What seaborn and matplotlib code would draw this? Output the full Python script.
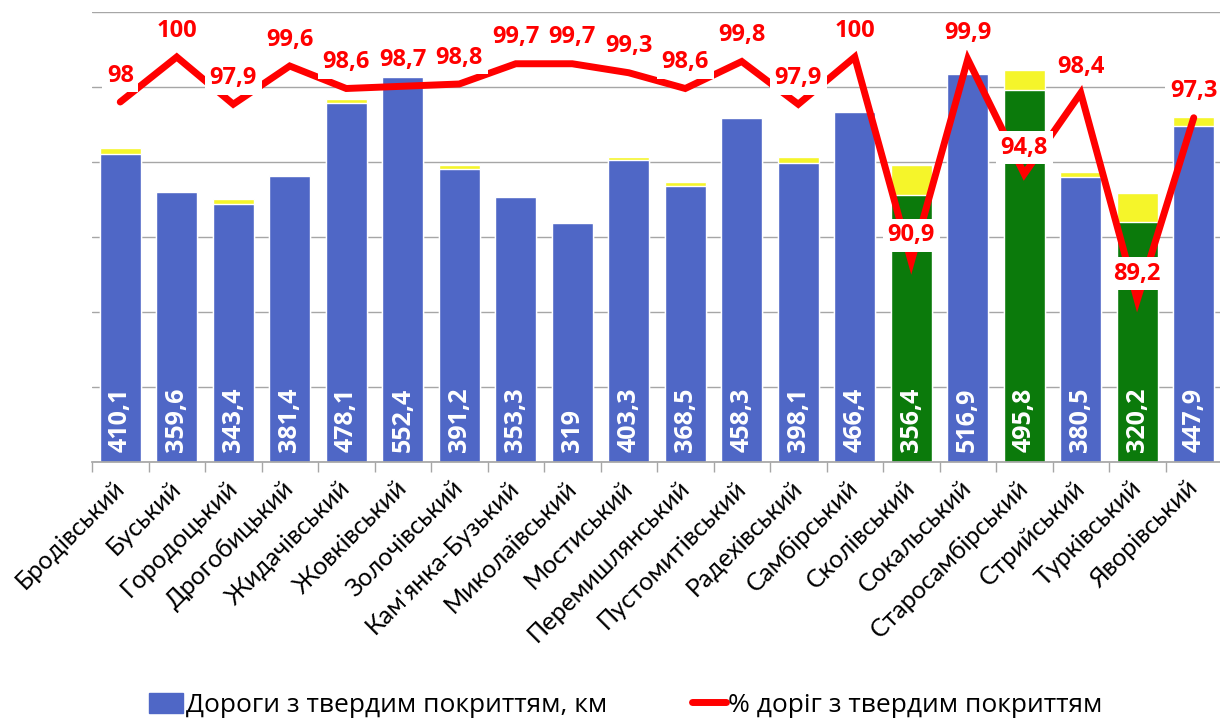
"""Lviv oblast districts: hard-surface roads (km) and share of hard-surface roads (%)."""

import matplotlib

matplotlib.use("Agg")
import matplotlib.pyplot as plt
import numpy as np
import pandas as pd
import seaborn as sns
from matplotlib.lines import Line2D
from matplotlib.patches import Patch

districts = [
    "Бродівський", "Буський", "Городоцький", "Дрогобицький", "Жидачівський",
    "Жовківський", "Золочівський", "Кам'янка-Бузький", "Миколаївський", "Мостиський",
    "Перемишлянський", "Пустомитівський", "Радехівський", "Самбірський", "Сколівський",
    "Сокальський", "Старосамбірський", "Стрийський", "Турківський", "Яворівський",
]
# bar heights as drawn (Жовківський bar is drawn lower than its label says)
hard_km = [410.1, 359.6, 343.4, 381.4, 478.1, 513.0, 391.2, 353.3, 319.0, 403.3,
           368.5, 458.3, 398.1, 466.4, 356.4, 516.9, 495.8, 380.5, 320.2, 447.9]
hard_labels = ["410,1", "359,6", "343,4", "381,4", "478,1", "552,4", "391,2", "353,3", "319", "403,3",
               "368,5", "458,3", "398,1", "466,4", "356,4", "516,9", "495,8", "380,5", "320,2", "447,9"]
other_km = [8.0, 0.0, 7.4, 1.5, 6.5, 0.0, 4.8, 1.0, 1.0, 3.0,
            5.5, 1.0, 8.0, 0.0, 40.0, 0.6, 27.0, 6.0, 39.0, 12.0]
hard_pct = [98, 100, 97.9, 99.6, 98.6, 98.7, 98.8, 99.7, 99.7, 99.3,
            98.6, 99.8, 97.9, 100, 90.9, 99.9, 94.8, 98.4, 89.2, 97.3]
mountain = ["Сколівський", "Старосамбірський", "Турківський"]

BLUE = "#4F67C6"
GREEN = "#0B7A0B"
YELLOW = "#F5F52A"
RED = "#FF0000"
GRID = "#A6A6A6"


def main() -> None:
    sns.set_theme(style="white")
    plt.rcParams["font.family"] = ["Open Sans", "DejaVu Sans"]
    plt.rcParams["text.color"] = "black"
    plt.rcParams["xtick.color"] = "black"

    df = pd.DataFrame({"district": districts, "hard": hard_km, "other": other_km, "pct": hard_pct})
    df["total"] = df["hard"] + df["other"]
    df["pos"] = np.arange(len(df))
    palette = {d: (GREEN if d in mountain else BLUE) for d in districts}

    fig = plt.figure(figsize=(12.2, 7.18), dpi=100)
    ax = fig.add_axes([92 / 1220, 1 - 462 / 718, 1130 / 1220, 450 / 718])

    sns.barplot(data=df, x="district", y="total", color=YELLOW, saturation=1,
                width=0.72, errorbar=None, ax=ax, zorder=2)
    sns.barplot(data=df, x="district", y="hard", hue="district", palette=palette,
                saturation=1, width=0.72, errorbar=None, legend=False, ax=ax, zorder=2)

    ax.set_ylim(0, 600)
    ax.set_xlim(-0.5, len(df) - 0.5)
    ax.set_yticks(range(0, 601, 100))
    ax.yaxis.grid(True, color=GRID, lw=1)
    ax.set_axisbelow(True)
    ax.tick_params(axis="y", length=0, labelleft=False)
    for side in ["left", "right", "top"]:
        ax.spines[side].set_visible(False)
    ax.spines["bottom"].set_color(GRID)
    ax.set_xlabel("")
    ax.set_ylabel("")

    ax.set_xticks(np.arange(-0.5, len(df), 1), minor=True)
    ax.tick_params(axis="x", which="minor", length=7, color=GRID, width=1, bottom=True)
    ax.tick_params(axis="x", which="major", length=0, pad=16)
    for label in ax.get_xticklabels():
        label.set_rotation(45)
        label.set_ha("right")
        label.set_va("center")
        label.set_rotation_mode("anchor")
        label.set_fontsize(18)
        label.set_family(["Lato", "DejaVu Sans"])

    for i, lab in enumerate(hard_labels):
        ax.text(i, 14, lab, rotation=90, ha="center", va="bottom", color="white",
                fontsize=18, fontweight="bold", zorder=3)

    ax2 = ax.twinx()
    sns.lineplot(data=df, x="pos", y="pct", color=RED, lw=5, ax=ax2,
                 solid_joinstyle="miter", solid_capstyle="round")
    ax2.set_ylim(82, 102)
    ax2.set_xlim(-0.5, len(df) - 0.5)
    ax2.axis("off")
    for i, p in enumerate(hard_pct):
        ax2.annotate(f"{p:g}".replace(".", ","), (i, p), xytext=(0, 19), textcoords="offset points",
                     ha="center", va="center", color=RED, fontsize=17, fontweight="bold",
                     bbox=dict(boxstyle="square,pad=0.2", fc="white", ec="none"))

    handles = [Patch(color=BLUE), Line2D([], [], color=RED, lw=5)]
    fig.legend(handles, ["Дороги з твердим покриттям, км", "% доріг з твердим покриттям"],
               loc="lower center", bbox_to_anchor=(0.513, -0.033), ncol=2, frameon=False,
               fontsize=19, handlelength=1.3, handleheight=0.8, handletextpad=0.1,
               columnspacing=3.2)

    fig.savefig("out.png", dpi=100)
    plt.close(fig)


if __name__ == "__main__":
    main()
